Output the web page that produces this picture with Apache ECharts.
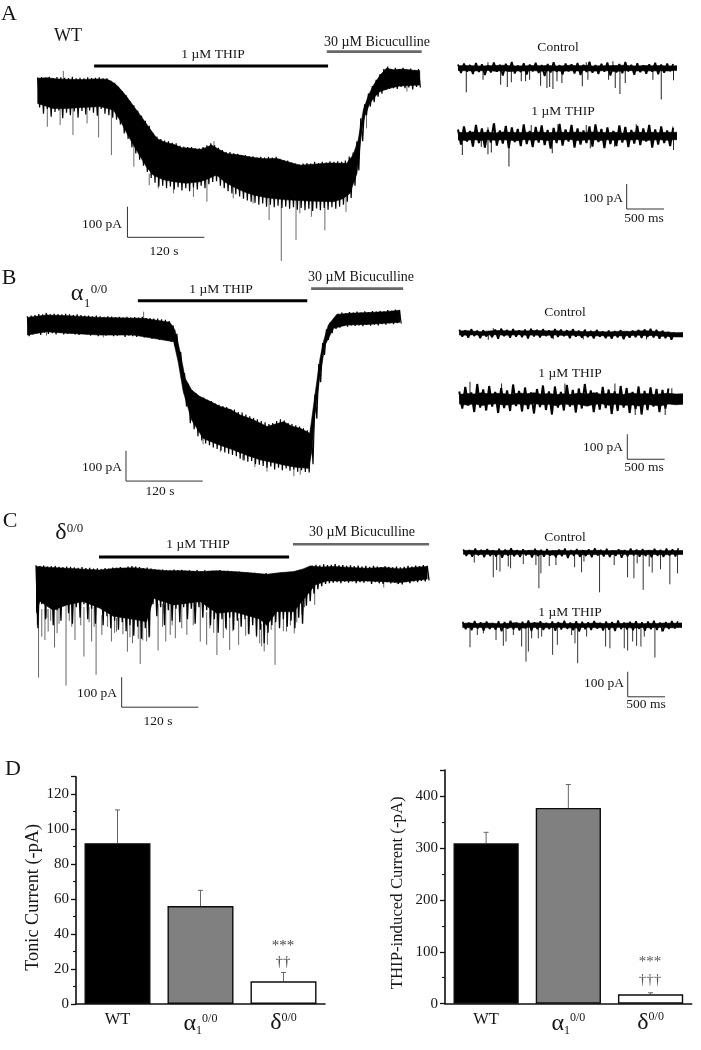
<!DOCTYPE html>
<html><head><meta charset="utf-8">
<style>html,body{margin:0;padding:0;background:#fff}#c{width:701px;height:1050px}</style>
<script src="https://cdn.jsdelivr.net/npm/echarts@6/dist/echarts.min.js"></script>
</head><body><div id="c"></div>
<script>
// ---- Panel A: long trace, [seconds, pA]
const aUp=[[0,0],[15,2],[30,-2],[45,-3],[70,-4],[90,-2],[108,-3],[115,-10],[123,-22],[131,-40],[139,-60],[150,-92],[160,-120],[172,-155],[186,-196],[198,-208],[212,-215],[225,-226],[240,-228],[253,-232],[262,-226],[271,-217],[283,-232],[295,-245],[315,-250],[336,-258],[355,-262],[373,-261],[390,-272],[409,-283],[430,-280],[455,-276],[482,-277],[492,-250],[500,-201],[508,-103],[516,-55],[524,-22],[534,10],[544,33],[555,28],[570,30],[585,26],[596,25]];
const aLo=[[0,-82],[12,-90],[24,-98],[45,-98],[70,-95],[97,-92],[118,-103],[128,-135],[139,-179],[150,-220],[160,-255],[170,-290],[180,-315],[195,-330],[212,-337],[232,-342],[253,-337],[265,-328],[279,-315],[292,-338],[305,-353],[320,-368],[336,-380],[360,-390],[388,-396],[425,-400],[461,-402],[476,-392],[487,-375],[498,-310],[505,-179],[510,-125],[518,-82],[526,-60],[534,-43],[550,-32],[565,-25],[596,-22]];
// sweep sampled every 3 s, swinging between the top and the bottom of the noise
const aNoise=[3,-95,4,-115,2,-100,5,-125,1,-110,4,-105,3,-130,2,-112,1,-120,5,-108,0,-128,2,-106,0,-118,3,-105,1,-112,2,-122,3,-100,0,-115,0,-120,-8,-128,-15,-135,-28,-150,-42,-180,-55,-198,-75,-225,-88,-245,-105,-265,-122,-285,-138,-305,-155,-325,-178,-340,-190,-352,-198,-350,-203,-358,-205,-352,-210,-362,-212,-355,-220,-365,-222,-358,-224,-368,-224,-356,-228,-362,-228,-350,-224,-358,-218,-345,-212,-338,-218,-335,-226,-350,-234,-358,-240,-368,-240,-375,-244,-378,-246,-385,-250,-392,-250,-398,-254,-402,-254,-405,-258,-412,-256,-408,-258,-418,-256,-412,-258,-420,-256,-415,-262,-422,-266,-418,-268,-425,-274,-420,-278,-428,-280,-422,-278,-430,-276,-425,-278,-432,-272,-424,-276,-430,-272,-422,-274,-428,-270,-420,-272,-425,-270,-418,-272,-412,-268,-402,-255,-390,-242,-350,-205,-300,-130,-205,-85,-120,-50,-92,-25,-78,-5,-60,14,-50,30,-38,38,-35,30,-32,34,-35,30,-28,34,-32,28,-30,32,-36,28,-28,30,-30];
const aSpikes=[[15,-158],[35,-152],[55,-185],[77,-147],[95,-193],[115,-250],[150,-288],[174,-348],[188,-359],[212,-375],[243,-386],[264,-402],[305,-391],[336,-408],[361,-462],[380,-595],[403,-527],[448,-495],[481,-435],[513,-163],[576,-43],[427,-451],[409,-440],[40,24],[275,-205]];
// ---- Panel B
const bUp=[[0,14],[30,22],[62,20],[114,14],[182,11],[223,-2],[231,-27],[239,-99],[247,-187],[257,-225],[270,-247],[285,-262],[302,-280],[318,-290],[333,-308],[352,-322],[375,-346],[388,-338],[401,-330],[414,-345],[427,-352],[442,-368],[450,-242],[458,-121],[464,-60],[471,-11],[484,24],[505,28],[531,30],[560,33],[583,38]];
const bLo=[[0,-44],[30,-33],[62,-38],[114,-44],[166,-44],[197,-55],[229,-66],[236,-132],[244,-231],[257,-324],[275,-385],[298,-405],[322,-423],[345,-442],[364,-456],[385,-465],[401,-473],[420,-480],[440,-484],[445,-429],[450,-308],[458,-176],[466,-77],[479,-22],[500,-11],[531,-9],[583,-2]];
const bNoise=[18,-48,20,-42,22,-38,25,-44,24,-36,28,-40,24,-38,26,-42,25,-36,24,-42,26,-40,24,-38,22,-42,24,-44,22,-40,20,-42,20,-46,18,-42,20,-48,18,-44,16,-46,18,-42,17,-48,15,-46,16,-44,14,-50,16,-46,14,-48,15,-50,14,-46,16,-52,12,-50,12,-56,10,-52,10,-60,8,-58,6,-62,2,-66,-12,-80,-40,-120,-100,-200,-170,-280,-205,-335,-226,-355,-236,-378,-246,-392,-250,-402,-258,-408,-262,-415,-270,-420,-274,-425,-278,-432,-282,-436,-288,-440,-290,-444,-298,-452,-300,-458,-306,-462,-312,-460,-318,-470,-322,-472,-328,-476,-332,-482,-338,-478,-334,-488,-328,-482,-322,-490,-326,-484,-334,-492,-338,-488,-342,-495,-346,-490,-352,-496,-358,-498,-350,-470,-240,-320,-140,-200,-70,-110,-25,-60,-2,-38,12,-24,26,-20,30,-14,28,-16,32,-12,30,-14,33,-12,30,-15,34,-11,32,-13,35,-10,33,-12,36,-8,34,-10,38,-6,36,-8,40,-5,38,-6];
const bSpikes=[[337,-456],[417,-510],[375,-495],[356,-480],[275,-405],[302,-430],[427,-505],[119,-52],[30,-46],[182,33],[29,30]];
// ---- Panel C
const cUp=[[0,6],[24,3],[48,0],[75,-3],[100,-6],[125,0],[152,2],[178,-3],[204,-8],[230,-8],[257,-11],[283,-8],[309,-11],[335,-15],[361,-20],[380,-15],[403,-11],[418,-2],[429,8],[447,4],[465,6],[490,3],[518,0],[545,3],[570,-2],[590,3],[612,6]];
const cLo=[[0,-150],[6,-110],[27,-140],[48,-122],[74,-111],[100,-133],[121,-160],[152,-170],[173,-178],[184,-100],[215,-122],[257,-111],[283,-150],[309,-144],[351,-170],[361,-190],[377,-144],[403,-145],[424,-89],[437,-55],[455,-42],[518,-42],[570,-47],[612,-36]];
const cNoise=[10,-200,8,-120,9,-170,6,-130,7,-190,8,-140,5,-175,4,-125,6,-150,5,-185,3,-130,2,-165,4,-120,1,-170,2,-135,-1,-185,0,-130,-2,-190,1,-160,-1,-200,3,-175,2,-205,4,-180,1,-210,6,-190,8,-225,6,-195,4,-235,1,-200,3,-230,-1,-120,-3,-160,-5,-130,-4,-190,-6,-140,-7,-175,-4,-135,-6,-180,-5,-130,-8,-170,-7,-135,-9,-185,-6,-130,-10,-165,-7,-140,-9,-190,-8,-170,-10,-215,-6,-170,-9,-200,-8,-165,-10,-205,-12,-175,-11,-195,-14,-170,-13,-220,-16,-190,-15,-225,-18,-205,-19,-250,-16,-215,-20,-190,-17,-180,-19,-200,-14,-170,-16,-195,-12,-175,-13,-200,-9,-165,-10,-185,-3,-125,2,-110,8,-85,12,-70,10,-60,13,-52,11,-50,12,-48,14,-46,10,-50,11,-45,8,-48,10,-44,7,-50,9,-46,6,-48,8,-44,5,-52,8,-46,6,-50,4,-52,7,-46,5,-50,3,-48,6,-52,3,-54,5,-46,8,-50,6,-44,9,-46,7,-42,11,-44,8,-40];
const cSpikes=[[4,-364],[9,-228],[14,-239],[19,-211],[29,-264],[33,-216],[47,-391],[61,-239],[75,-294],[87,-244],[94,-355],[103,-222],[118,-244],[126,-211],[143,-278],[151,-250],[163,-319],[173,-244],[191,-274],[203,-244],[210,-222],[218,-233],[236,-222],[257,-244],[267,-255],[283,-289],[293,-233],[303,-272],[317,-255],[332,-217],[357,-277],[374,-322],[392,-211],[404,-217],[416,-155],[436,-122],[544,-64],[565,-53],[2,-190],[17,-165],[23,-175],[36,-185],[52,-175],[56,-195],[70,-190],[83,-180],[91,-195],[112,-195],[123,-215],[136,-220],[147,-230],[160,-235],[167,-240],[178,-225],[198,-195],[213,-190],[228,-200],[246,-190],[272,-200],[278,-215],[298,-205],[308,-210],[328,-225],[345,-230],[350,-250],[353,-260],[362,-255],[368,-205],[387,-210],[398,-190],[408,-180],[420,-130]];
// ---- Short sweeps: solid core sampled on msGrid (ms, pA)
const msGrid=[0,100,200,300,400,500,600,700,800,900,1000,1100,1200,1300,1400,1500,1600,1700,1800,1900,2000,2100,2200,2300,2400,2500,2600,2700,2800,2900,3000];
const raCtrlUp=[9,10,9,8,9,10,11,9,8,9,10,9,10,8,9,11,9,10,8,9,9,10,11,9,8,10,9,10,8,9,9];
const raCtrlLo=[-10,-11,-12,-11,-10,-13,-11,-14,-12,-12,-10,-13,-12,-11,-13,-11,-12,-10,-13,-11,-11,-14,-12,-10,-12,-11,-12,-11,-12,-10,-11];
const raThipUp=[15,13,16,14,15,12,16,15,13,15,14,16,13,15,15,14,16,14,16,15,13,15,12,14,16,13,15,13,15,15,14];
const raThipLo=[-16,-18,-14,-18,-15,-17,-15,-17,-19,-14,-17,-15,-18,-15,-16,-14,-18,-16,-14,-18,-15,-17,-15,-16,-14,-18,-16,-15,-17,-15,-15];
const rbCtrlUp=[7,8,6,4,7,9,8,7,8,7,9,8,7,8,6,7,5,4,5,4,3,5,6,5,7,8,6,4,2,0,1];
const rbCtrlLo=[-9,-10,-8,-11,-9,-8,-10,-9,-8,-10,-9,-11,-10,-9,-11,-10,-12,-12,-13,-12,-14,-12,-13,-11,-10,-12,-11,-14,-15,-17,-17];
const rbThipUp=[18,22,20,25,20,23,21,18,24,21,25,19,22,18,21,18,24,20,25,19,23,21,18,24,20,22,18,21,23,20,21];
const rbThipLo=[-20,-24,-19,-26,-21,-19,-25,-22,-20,-24,-18,-23,-21,-27,-19,-24,-21,-28,-22,-19,-25,-20,-26,-23,-28,-21,-25,-27,-20,-23,-21];
const rcCtrlUp=[7,8,7,8,7,6,8,7,6,8,7,5,7,8,6,7,8,7,8,6,7,8,6,7,7,8,7,6,7,7,8];
const rcCtrlLo=[-8,-7,-9,-8,-9,-8,-10,-9,-7,-9,-10,-8,-11,-8,-9,-7,-10,-8,-9,-8,-9,-7,-9,-8,-10,-8,-9,-10,-8,-9,-8];
const rcThipUp=[8,9,7,9,8,6,8,10,7,9,10,8,7,9,7,8,6,8,9,7,8,7,9,8,6,8,7,9,8,9,10];
const rcThipLo=[-9,-10,-8,-10,-9,-8,-10,-9,-11,-8,-9,-10,-9,-8,-10,-11,-9,-8,-10,-9,-10,-8,-9,-11,-9,-10,-8,-9,-10,-9,-8];
// short sweeps' noise, one reading every 40 ms
const raCtrlNoise=[14,-20,18,-14,12,-24,20,-16,15,-28,11,-18,22,-15,13,-30,17,-13,24,-22,10,-16,19,-26,14,-14,21,-20,12,-32,16,-18,23,-15,11,-26,18,-14,15,-22,20,-28,13,-16,25,-19,12,-24,17,-15,22,-30,10,-18,16,-21,24,-14,13,-27,19,-17,11,-23,15,-15,21,-25,14,-19,18,-13,16];
const raThipNoise=[26,-34,38,-22,20,-42,44,-28,30,-46,24,-26,50,-38,22,-30,40,-48,34,-24,28,-40,46,-32,20,-44,36,-26,42,-36,24,-50,32,-28,48,-38,26,-22,44,-46,30,-34,22,-28,38,-42,46,-24,28,-48,34,-32,20,-40,42,-26,36,-44,24,-30,40,-36,30,-22,44,-46,26,-34,38,-28,22,-40,32];
const rbCtrlNoise=[12,-16,9,-20,14,-13,8,-22,10,-15,4,-18,13,-24,16,-14,11,-20,15,-16,9,-18,13,-23,16,-15,11,-19,14,-13,9,-21,15,-17,12,-14,10,-22,14,-16,8,-20,12,-18,7,-23,11,-16,5,-22,9,-24,6,-19,10,-26,4,-20,8,-18,11,-21,13,-17,16,-19,12,-24,8,-22,3,-28,1];
const rbThipNoise=[30,-38,48,-26,26,-52,60,-34,38,-46,52,-30,28,-56,44,-36,34,-48,58,-28,32,-50,46,-40,26,-58,40,-32,54,-44,30,-62,50,-34,28,-46,56,-30,36,-54,42,-38,60,-28,34,-52,26,-42,48,-36,38,-60,30,-48,52,-34,44,-56,28,-40,50,-62,32,-44,46,-30,40,-52,36,-38,42];
const rcCtrlNoise=[12,-14,9,-18,15,-12,10,-20,13,-15,8,-17,14,-22,11,-13,16,-16,9,-19,12,-12,7,-21,14,-15,10,-18,13,-13,6,-20,11,-16,15,-23,9,-14,13,-18,8,-15,12,-20,16,-13,10,-17,14,-19,7,-14,12,-22,9,-16,15,-12,11,-18,13,-15,8,-20,14,-14,10,-19,15,-13,12,-17,16];
const rcThipNoise=[14,-16,11,-20,17,-13,12,-22,15,-15,9,-18,16,-24,13,-14,18,-17,11,-21,14,-13,19,-23,12,-16,16,-19,10,-15,15,-22,13,-17,18,-14,11,-20,16,-25,14,-16,12,-19,17,-13,10,-21,15,-18,13,-23,19,-15,11,-17,14,-20,16,-14,12,-22,15,-16,18,-19,11,-24,13,-15,17,-13,16];
const raCtrlSpikes=[[111,-97],[335,-47],[571,-67],[660,-76],[714,-57],[847,-53],[905,-53],[959,-47],[1106,-71],[1191,-80],[1227,-76],[1271,-84],[1325,-53],[1391,-60],[1664,-73],[1739,-47],[2016,-47],[2105,-80],[2168,-104],[2239,-60],[2609,-47],[2721,-126],[2885,-49],[401,23],[2074,27],[1717,23]];
const raThipSpikes=[[58,-76],[401,-73],[446,-66],[682,-122],[1262,-69],[1771,-49],[2096,-43],[2885,-56],[200,-40],[312,-43],[491,50],[401,35],[1338,47],[1717,44],[980,44],[2386,47],[2877,38]];
const rbCtrlSpikes=[[455,18],[388,-28],[1258,-26],[1659,-27],[2506,-27]];
const rbThipSpikes=[[143,69],[566,62],[1414,62],[2083,62],[2845,43],[1240,-53],[2355,-64],[2756,-64]];
const rcCtrlSpikes=[[147,-41],[401,-100],[446,-71],[491,-77],[602,-57],[633,-64],[803,-47],[972,-51],[1012,-144],[1039,-84],[1151,-55],[1240,-51],[1490,-60],[1583,-80],[1615,-37],[1824,-160],[2020,-51],[2199,-100],[2284,-104],[2328,-44],[2408,-150],[2489,-57],[2529,-81],[2640,-68],[2765,-128],[2868,-84]];
const rcThipSpikes=[[98,-88],[196,-39],[277,-32],[446,-59],[544,-82],[580,-65],[678,-39],[789,-85],[847,-145],[879,-105],[923,-52],[1012,-52],[1057,-45],[1204,-118],[1267,-78],[1458,-39],[1503,-72],[1539,-152],[1659,-45],[1913,-85],[1971,-92],[2163,-92],[2208,-101],[2275,-65],[2328,-82],[2386,-85],[2431,-45],[2573,-129],[2663,-25]];
// ---- Panel D
const groups=['WT','{a|α}{s|1}{p|0/0}','{a|δ}{p|0/0}'];
const tonicMean=[92,56,13];
const tonicTop=[111,65,18];
const thipMean=[309,377,18];
const thipTop=[330,422,21];
const tonicTicks=[0,20,40,60,80,100,120];
const thipTicks=[0,100,200,300,400];
const barFill=['#000000','#808080','#ffffff'];

const SERIF='"Liberation Serif","Times New Roman",serif', INK='#161616', GREY='#686868';
const grids=[],xAxes=[],yAxes=[],series=[];
function frame(x0,sx,y0,sy,tMax,yMin,yMax){
  const i=grids.length;
  grids.push({left:x0,width:tMax*sx,top:y0-yMax*sy,height:(yMax-yMin)*sy});
  xAxes.push({type:'value',gridIndex:i,min:0,max:tMax,show:false});
  yAxes.push({type:'value',gridIndex:i,min:yMin,max:yMax,show:false});
  return i;
}
const common=i=>({xAxisIndex:i,yAxisIndex:i,silent:true,animation:false});
function lookup(tb,t){let k=0;while(k<tb.length-1&&tb[k][0]<t)k++;return tb[k][1];}
function trace(i,up,lo,noise,step,noiseWidth,spikes,spikeColor){
  const back=lo.slice().reverse();
  const rows=spikes.map(s=>{
    const upEdge=lookup(up,s[0]), loEdge=lookup(lo,s[0]);
    return [s[0],s[1],s[1]>upEdge-1?upEdge-4:loEdge+4];
  });
  series.push(Object.assign(common(i),{type:'custom',clip:true,z:3,data:rows,encode:{x:0,y:1},
    renderItem:(p,api)=>{const a=api.coord([api.value(0),api.value(1)]),b=api.coord([api.value(0),api.value(2)]);
      return {type:'line',shape:{x1:a[0],y1:a[1],x2:b[0],y2:b[1]},style:{stroke:spikeColor,lineWidth:1}};}}));
  series.push(Object.assign(common(i),{type:'line',clip:true,z:3,symbol:'none',sampling:null,
    data:noise.map((v,k)=>[k*step,v]),lineStyle:{color:'#000',width:noiseWidth,join:'bevel'}}));
  series.push(Object.assign(common(i),{type:'custom',clip:true,z:4,data:[up[0]],encode:{x:0,y:1},
    renderItem:(p,api)=>({type:'polygon',shape:{points:up.concat(back).map(d=>api.coord(d))},style:{fill:'#000',stroke:'#000',lineWidth:0.6}})}));
}
function path(i,pts,color,width){
  series.push(Object.assign(common(i),{type:'line',data:pts,symbol:'none',clip:false,z:5,lineStyle:{color,width,cap:'butt',join:'miter'}}));
}
const onGrid=(vals)=>msGrid.map((t,k)=>[t,vals[k]]);

// Long traces
let g=frame(37.7,0.641,78.3,0.307,640,-620,125);
trace(g,aUp,aLo,aNoise,3,1.2,aSpikes,'#6a6a6a');
path(g,[[88,40],[453,40]],'#000',3);
path(g,[[451,87],[599,87]],GREY,2.6);
path(g,[[140,-418],[140,-518],[260,-518]],'#333',1);

g=frame(27.3,0.6392,321.7,0.303,640,-560,150);
trace(g,bUp,bLo,bNoise,3,1.2,bSpikes,'#6a6a6a');
path(g,[[173,69],[438,69]],'#000',3);
path(g,[[444,109],[588,109]],GREY,2.6);
path(g,[[154.4,-426],[154.4,-526],[274.4,-526]],'#333',1);

g=frame(36,0.6392,568.3,0.30,640,-500,120);
trace(g,cUp,cLo,cNoise,3,1.3,cSpikes,'#666');
path(g,[[98.6,38],[396,38]],'#000',3);
path(g,[[402,80],[615,80]],GREY,2.6);
path(g,[[134,-363],[134,-463],[254,-463]],'#333',1);

// Short sweeps
const SX=0.0747,SY=0.25;
g=frame(458,SX,68,SY,2920,-140,60); trace(g,onGrid(raCtrlUp),onGrid(raCtrlLo),raCtrlNoise,40,1.8,raCtrlSpikes,'#222');
g=frame(458,SX,136,SY,2920,-320,80); trace(g,onGrid(raThipUp),onGrid(raThipLo),raThipNoise,40,2,raThipSpikes,'#222');
path(g,[[2258,-192],[2258,-292],[2758,-292]],'#333',1);
g=frame(459.3,SX,332.7,SY,2985,-80,60); trace(g,onGrid(rbCtrlUp),onGrid(rbCtrlLo),rbCtrlNoise,40,1.8,rbCtrlSpikes,'#222');
g=frame(459.3,SX,399,SY,2985,-260,90); trace(g,onGrid(rbThipUp),onGrid(rbThipLo),rbThipNoise,40,2,rbThipSpikes,'#222');
path(g,[[2249,-141],[2249,-241],[2749,-241]],'#333',1);
g=frame(463.3,SX,552.3,SY,2930,-180,50); trace(g,onGrid(rcCtrlUp),onGrid(rcCtrlLo),rcCtrlNoise,40,1.6,rcCtrlSpikes,'#333');
g=frame(462.7,SX,625.3,SY,2930,-300,60); trace(g,onGrid(rcThipUp),onGrid(rcThipLo),rcThipNoise,40,1.6,rcThipSpikes,'#333');
path(g,[[2209,-186],[2209,-286],[2709,-286]],'#333',1);

// Bar charts
function bars(box,yMax,step,ticks,means,tops,name,nameGap,namePad,nameSize){
  const i=grids.length;
  grids.push(box);
  const rich={a:{fontFamily:SERIF,fontSize:24,color:INK},
    s:{fontFamily:SERIF,fontSize:12,color:INK,padding:[14,0,0,0]},
    p:{fontFamily:SERIF,fontSize:12,color:INK,padding:[0,0,11,0]}};
  xAxes.push({type:'category',gridIndex:i,data:groups,
    axisLine:{lineStyle:{color:'#111',width:1.6}},axisTick:{alignWithLabel:true,length:6,lineStyle:{color:'#111',width:1.3}},
    axisLabel:{fontFamily:SERIF,fontSize:16.5,color:INK,margin:7,interval:0,hideOverlap:false,rich}});
  xAxes.push({type:'category',gridIndex:i,data:groups,position:'bottom',
    axisLine:{show:false},axisTick:{length:3,lineStyle:{color:'#111',width:1.2}},axisLabel:{show:false}});
  yAxes.push({type:'value',gridIndex:i,min:0,max:yMax,interval:step,name,nameLocation:'middle',nameRotate:90,nameGap,
    nameTextStyle:{fontFamily:SERIF,fontSize:nameSize,color:INK,padding:namePad},
    splitLine:{show:false},
    axisLine:{show:true,lineStyle:{color:'#111',width:1.6}},
    axisTick:{show:true,length:5,lineStyle:{color:'#111',width:1.3}},
    minorTick:{show:true,splitNumber:2,length:3,lineStyle:{color:'#111',width:1.1}},
    axisLabel:{fontFamily:SERIF,fontSize:15,color:INK,margin:7,formatter:v=>ticks.includes(v)?String(v):''}});
  const xi=xAxes.length-2;
  series.push({type:'bar',xAxisIndex:xi,yAxisIndex:yAxes.length-1,barWidth:box.width/3-17,animation:false,silent:true,z:3,
    data:means.map((v,k)=>({value:v,itemStyle:{color:barFill[k],borderColor:'#0c0c0c',borderWidth:1.4}}))});
  series.push({type:'custom',xAxisIndex:xi,yAxisIndex:yAxes.length-1,animation:false,silent:true,z:2,clip:false,
    data:tops.map((v,k)=>[k,means[k],v]),encode:{x:0,y:2},
    renderItem:(p,api)=>{const a=api.coord([api.value(0),api.value(1)]),b=api.coord([api.value(0),api.value(2)]);
      return {type:'group',children:[
        {type:'line',shape:{x1:a[0],y1:a[1],x2:b[0],y2:b[1]},style:{stroke:'#666',lineWidth:1}},
        {type:'line',shape:{x1:b[0]-2.5,y1:b[1],x2:b[0]+2.5,y2:b[1]},style:{stroke:'#666',lineWidth:1}}]};}});
}
bars({left:76,width:249,top:776.7,height:227.3},130,20,tonicTicks,tonicMean,tonicTop,'Tonic Current (-pA)',33,[0,14,0,0],18.3);
bars({left:445,width:246.7,top:770,height:233.7},450,100,thipTicks,thipMean,thipTop,'THIP-induced Current (-pA)',39,[0,12,0,0],16.8);

// Text annotations: [text, centre x, baseline y, font size, colour]
const notes=[
 ['A',9,21,22],['B',9,285,22],['C',10,528,22],['D',13,776,22],
 ['WT',68,42,18],['1 µM THIP',213,59,13.5],['30 µM Bicuculline',377,47,14],
 ['100 pA',102,229,13.5],['120 s',164,256,13.5],
 ['Control',558,52,13.5],['1 µM THIP',563,116,13.5],['100 pA',603,203,13.5],['500 ms',644,223,13.5],
 ['α',77,301,24],['1',87,308,12.5],['0/0',99,294,13],
 ['1 µM THIP',221,294,13.5],['30 µM Bicuculline',361,282,14],
 ['100 pA',102,472,13.5],['120 s',160,496,13.5],
 ['Control',565,317,13.5],['1 µM THIP',570,378,13.5],['100 pA',603,452,13.5],['500 ms',644,472,13.5],
 ['δ',61,540,24],['0/0',75,533,13],
 ['1 µM THIP',198,549,13.5],['30 µM Bicuculline',362,537,14],
 ['100 pA',97,698,13.5],['120 s',158,726,13.5],
 ['Control',565,542,13.5],['1 µM THIP',570,617,13.5],['100 pA',604,688,13.5],['500 ms',646,709,13.5],
 ['***',283,951,15,'#444'],['††',283,967,15,'#444'],['***',650,967,15,'#555'],['†††',650,985,15,'#555']
];
const graphic=notes.map(n=>({type:'text',silent:true,x:n[1],y:n[2]-n[3]*0.32,
  style:{text:n[0],fill:n[4]||INK,font:n[3]+'px '+SERIF,align:'center',verticalAlign:'middle'}}));

const chart=echarts.init(document.getElementById('c'),null,{renderer:'canvas'});
chart.setOption({animation:false,backgroundColor:'#fff',grid:grids,xAxis:xAxes,yAxis:yAxes,series,graphic,tooltip:{show:false}});
</script></body></html>
